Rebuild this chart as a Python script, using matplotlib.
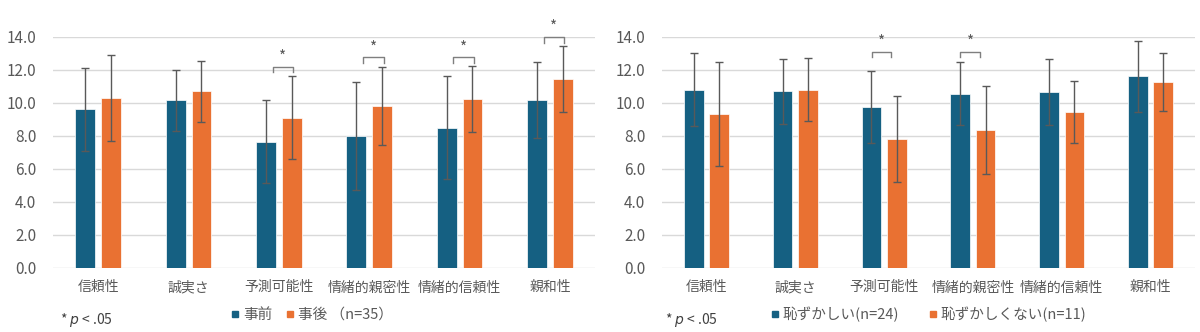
import numpy as np
import matplotlib.pyplot as plt
from matplotlib.lines import Line2D

plt.rcParams['font.family'] = ['Noto Sans CJK JP', 'DejaVu Sans']

categories = ['信頼性', '誠実さ', '予測可能性', '情緒的親密性', '情緒的信頼性', '親和性']

# before / after (n=35)
pre_mean = [9.6, 10.15, 7.65, 8.0, 8.5, 10.2]
pre_sd = [2.5, 1.85, 2.5, 3.25, 3.1, 2.3]
post_mean = [10.3, 10.7, 9.1, 9.8, 10.25, 11.45]
post_sd = [2.6, 1.85, 2.5, 2.35, 2.0, 2.0]
sig_left = [2, 3, 4, 5]
sig_left_y = [12.2, 12.75, 12.75, 14.0]

# embarrassed (n=24) / not embarrassed (n=11)
emb_mean = [10.8, 10.7, 9.75, 10.55, 10.65, 11.6]
emb_sd = [2.2, 1.95, 2.2, 1.9, 2.0, 2.15]
noemb_mean = [9.35, 10.8, 7.8, 8.35, 9.45, 11.25]
noemb_sd = [3.15, 1.9, 2.6, 2.65, 1.9, 1.75]
sig_right = [2, 3]
sig_right_y = [13.1, 13.1]

BLUE = '#156082'
ORANGE = '#E97132'
GRAY = '#595959'

fig = plt.figure(figsize=(12, 3.32), dpi=100)
ax1 = fig.add_axes([0.0442, 0.193, 0.4517, 0.696])
ax2 = fig.add_axes([0.5517, 0.193, 0.444, 0.696])


def draw(ax, m1, s1, m2, s2, sig, sig_y, span):
    x = np.arange(len(categories))
    w = 0.22
    off = 0.143
    ax.bar(x - off, m1, w, color=BLUE, edgecolor='white', linewidth=0.5, zorder=2)
    ax.bar(x + off, m2, w, color=ORANGE, edgecolor='white', linewidth=0.5, zorder=2)
    ax.errorbar(x - off, m1, yerr=s1, fmt='none', ecolor=GRAY, elinewidth=1,
                capsize=3, capthick=1, zorder=3)
    ax.errorbar(x + off, m2, yerr=s2, fmt='none', ecolor=GRAY, elinewidth=1,
                capsize=3, capthick=1, zorder=3)
    for i, y in zip(sig, sig_y):
        xl, xr = i + span[0], i + span[1]
        ax.plot([xl, xl, xr, xr], [y - 0.35, y, y, y - 0.35], color='#7f7f7f',
                lw=1, clip_on=False, zorder=4)
        ax.text((xl + xr) / 2, y + 0.05, '*', ha='center', va='bottom',
                fontsize=11, color=GRAY, clip_on=False)
    ax.set_xlim(-0.5, len(categories) - 0.5)
    ax.set_ylim(0, 14)
    ax.set_yticks(np.arange(0, 15, 2))
    ax.set_yticklabels([f'{v:.1f}' for v in np.arange(0, 15, 2)])
    ax.set_xticks(x)
    ax.set_xticklabels(categories)
    ax.grid(axis='y', color='#d9d9d9', lw=1, zorder=0)
    ax.set_axisbelow(True)
    for s in ax.spines.values():
        s.set_visible(False)
    ax.tick_params(length=0, labelsize=10, labelcolor=GRAY)
    ax.tick_params(axis='y', pad=12, labelsize=11)
    ax.tick_params(axis='x', pad=9)


draw(ax1, pre_mean, pre_sd, post_mean, post_sd, sig_left, sig_left_y, (-0.07, 0.16))
draw(ax2, emb_mean, emb_sd, noemb_mean, noemb_sd, sig_right, sig_right_y, (-0.14, 0.08))


def sq(c):
    return Line2D([], [], marker='s', color=c, ls='none', markersize=5)


leg_kw = dict(loc='center left', ncol=2, frameon=False, fontsize=10.5,
              handlelength=0.6, handletextpad=0.25, borderpad=0,
              borderaxespad=0, labelcolor=GRAY)
fig.legend([sq(BLUE), sq(ORANGE)], ['事前', '事後 （n=35）'],
           bbox_to_anchor=(0.1925, 0.052), columnspacing=0.9, **leg_kw)
fig.legend([sq(BLUE), sq(ORANGE)], ['恥ずかしい(n=24)', '恥ずかしくない(n=11)'],
           bbox_to_anchor=(0.642, 0.052), columnspacing=2.0, **leg_kw)

for xp in (0.05, 0.554):
    fig.text(xp, 0.036, '* $p$ < .05', fontsize=10, color='#404040', va='center')

fig.savefig('out.png', dpi=100)
